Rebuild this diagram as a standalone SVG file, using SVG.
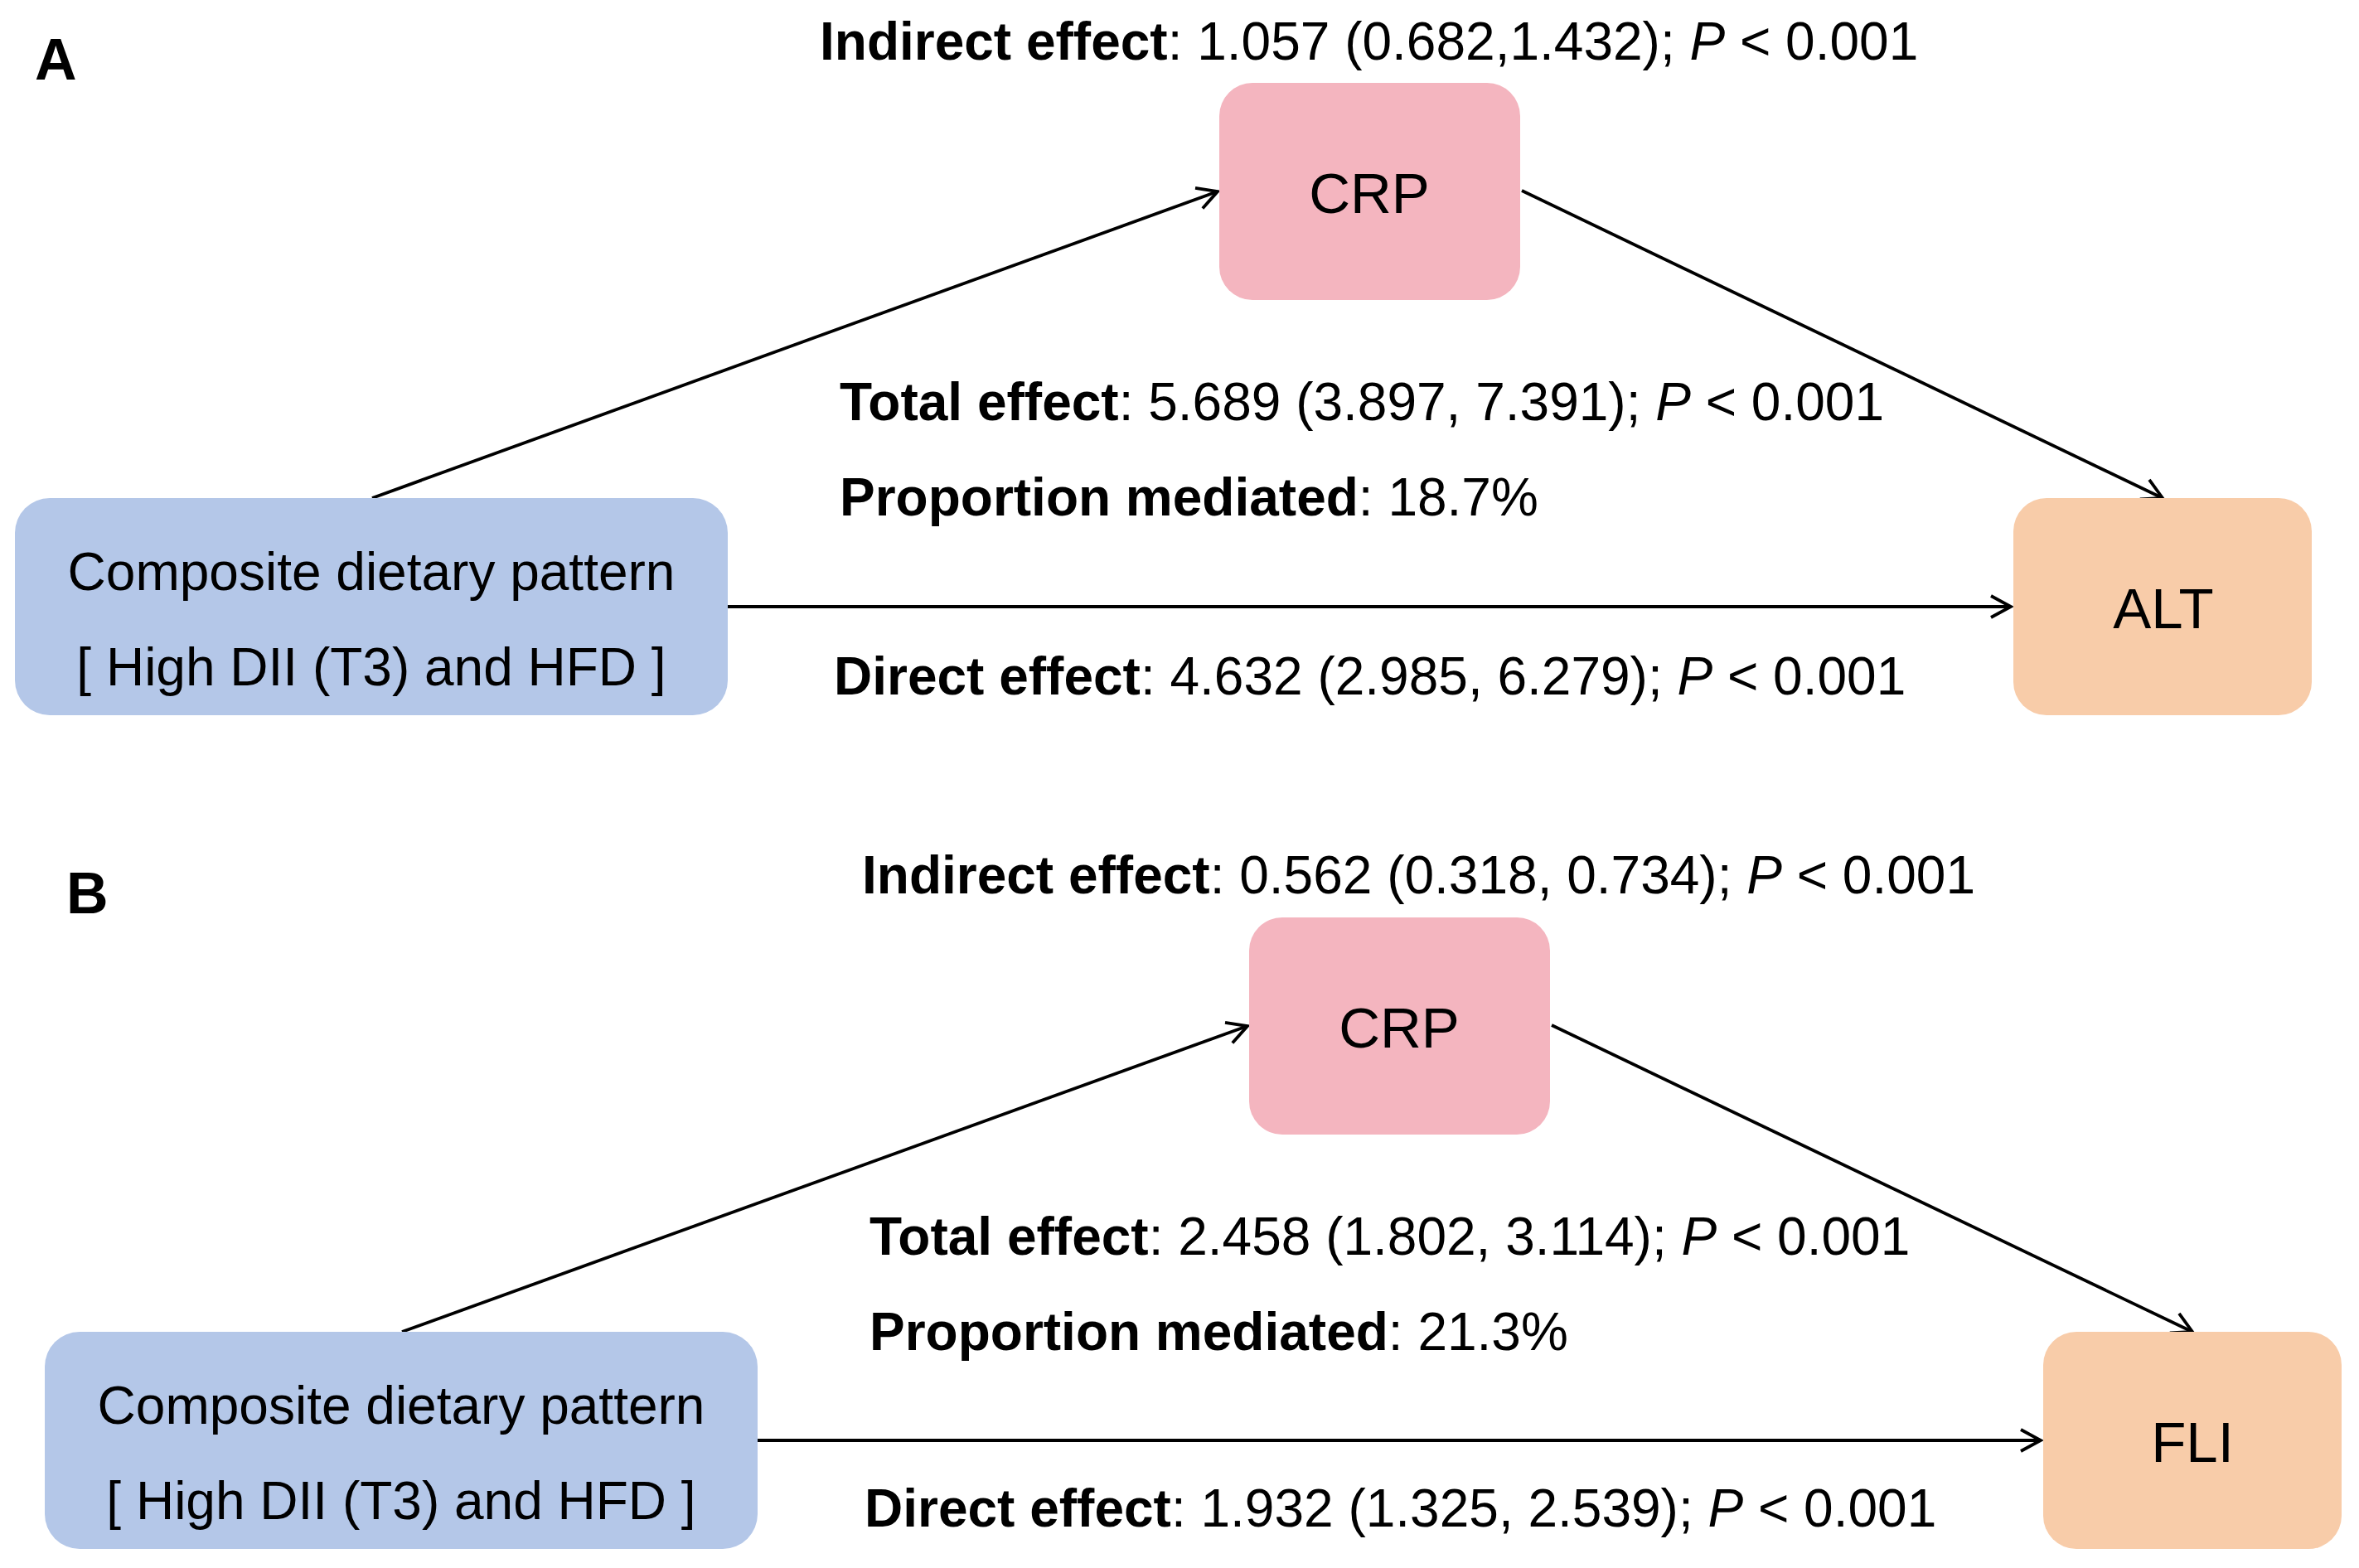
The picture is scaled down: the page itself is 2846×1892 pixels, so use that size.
<svg xmlns="http://www.w3.org/2000/svg" width="2846" height="1892" viewBox="0 0 2846 1892">
<defs>
<marker id="arr" viewBox="0 0 30 30" refX="27" refY="15" markerWidth="30" markerHeight="30" markerUnits="userSpaceOnUse" orient="auto">
<path d="M3,2 L27,15 L3,28" fill="none" stroke="#000" stroke-width="3.8" stroke-linejoin="miter"/>
</marker>
<style>
text{font-family:"Liberation Sans",Arial,sans-serif;font-size:64px;fill:#000}
.b{font-weight:bold}
.i{font-style:italic}
.lab{font-size:70px;font-weight:bold}
.node{font-size:69px}
.exp{fill:#B4C7E8}
.med{fill:#F4B5BF}
.out{fill:#F8CCA9}
.c{text-anchor:middle}
.conn line{stroke:#000;stroke-width:3.8;marker-end:url(#arr)}
</style>
</defs>
<rect width="2846" height="1892" fill="#fff"/>

<!-- Panel A -->
<g id="panelA">
<text class="lab" x="42" y="96">A</text>
<g id="connectorsA" class="conn">
<line x1="449" y1="601" x2="1469" y2="231"/>
<line x1="1836" y1="230" x2="2609" y2="601"/>
<line x1="878" y1="732" x2="2426" y2="732"/>
</g>
<g id="exposureA">
<rect class="exp" x="18" y="601" width="860" height="262" rx="42"/>
<text class="c" x="448" y="712">Composite dietary pattern</text>
<text class="c" x="448" y="827">[ High DII (T3) and HFD ]</text>
</g>
<g id="mediatorA">
<rect class="med" x="1471" y="100" width="363" height="262" rx="40"/>
<text class="c node" x="1652" y="257">CRP</text>
</g>
<g id="outcomeA">
<rect class="out" x="2429" y="601" width="360" height="262" rx="40"/>
<text class="c node" x="2610" y="758">ALT</text>
</g>
<g id="labelsA">
<text x="989" y="72"><tspan class="b">Indirect effect</tspan>: 1.057 (0.682,1.432); <tspan class="i">P</tspan> &lt; 0.001</text>
<text x="1013" y="507"><tspan class="b">Total effect</tspan>: 5.689 (3.897, 7.391); <tspan class="i">P</tspan> &lt; 0.001</text>
<text x="1013" y="622"><tspan class="b">Proportion mediated</tspan>: 18.7%</text>
<text x="1006" y="838"><tspan class="b">Direct effect</tspan>: 4.632 (2.985, 6.279); <tspan class="i">P</tspan> &lt; 0.001</text>
</g>
</g>

<!-- Panel B -->
<g id="panelB">
<text class="lab" x="80" y="1102">B</text>
<g id="connectorsB" class="conn">
<line x1="485" y1="1607" x2="1505" y2="1238"/>
<line x1="1872" y1="1237" x2="2645" y2="1607"/>
<line x1="914" y1="1738" x2="2462" y2="1738"/>
</g>
<g id="exposureB">
<rect class="exp" x="54" y="1607" width="860" height="262" rx="42"/>
<text class="c" x="484" y="1718">Composite dietary pattern</text>
<text class="c" x="484" y="1833">[ High DII (T3) and HFD ]</text>
</g>
<g id="mediatorB">
<rect class="med" x="1507" y="1107" width="363" height="262" rx="40"/>
<text class="c node" x="1688" y="1264">CRP</text>
</g>
<g id="outcomeB">
<rect class="out" x="2465" y="1607" width="360" height="262" rx="40"/>
<text class="c node" x="2645" y="1764">FLI</text>
</g>
<g id="labelsB">
<text x="1040" y="1078"><tspan class="b">Indirect effect</tspan>: 0.562 (0.318, 0.734); <tspan class="i">P</tspan> &lt; 0.001</text>
<text x="1049" y="1514"><tspan class="b">Total effect</tspan>: 2.458 (1.802, 3.114); <tspan class="i">P</tspan> &lt; 0.001</text>
<text x="1049" y="1629"><tspan class="b">Proportion mediated</tspan>: 21.3%</text>
<text x="1043" y="1842"><tspan class="b">Direct effect</tspan>: 1.932 (1.325, 2.539); <tspan class="i">P</tspan> &lt; 0.001</text>
</g>
</g>
</svg>
